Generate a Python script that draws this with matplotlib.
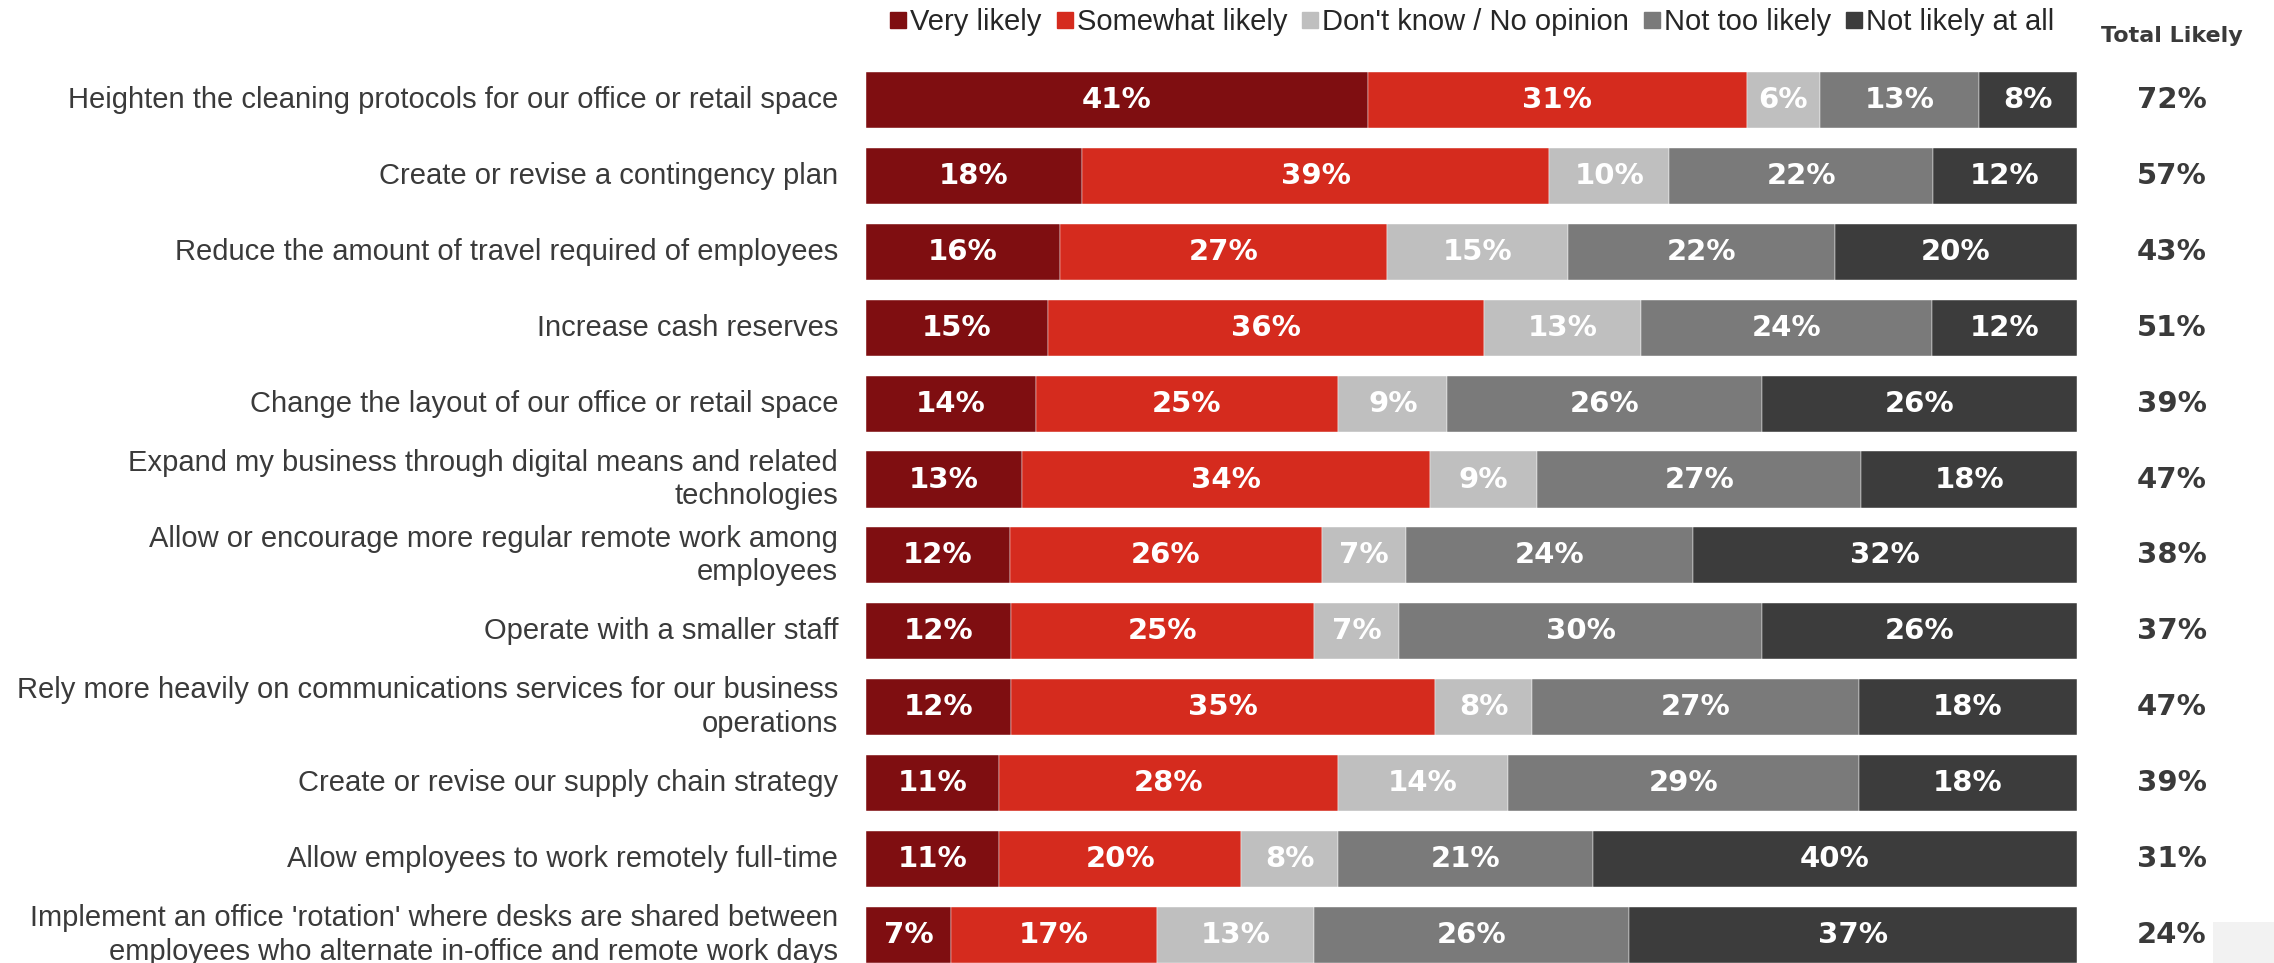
import numpy as np
import matplotlib.pyplot as plt
from matplotlib.lines import Line2D
from matplotlib.patches import Rectangle

plt.rcParams['font.family'] = ['Liberation Sans', 'DejaVu Sans']

categories = [
    "Heighten the cleaning protocols for our office or retail space",
    "Create or revise a contingency plan",
    "Reduce the amount of travel required of employees",
    "Increase cash reserves",
    "Change the layout of our office or retail space",
    "Expand my business through digital means and related\ntechnologies",
    "Allow or encourage more regular remote work among\nemployees",
    "Operate with a smaller staff",
    "Rely more heavily on communications services for our business\noperations",
    "Create or revise our supply chain strategy",
    "Allow employees to work remotely full-time",
    "Implement an office 'rotation' where desks are shared between\nemployees who alternate in-office and remote work days",
]
series = ["Very likely", "Somewhat likely", "Don't know / No opinion", "Not too likely", "Not likely at all"]
very_likely = [41, 18, 16, 15, 14, 13, 12, 12, 12, 11, 11, 7]
somewhat_likely = [31, 39, 27, 36, 25, 34, 26, 25, 35, 28, 20, 17]
dont_know = [6, 10, 15, 13, 9, 9, 7, 7, 8, 14, 8, 13]
not_too_likely = [13, 22, 22, 24, 26, 27, 24, 30, 27, 29, 21, 26]
not_likely_at_all = [8, 12, 20, 12, 26, 18, 32, 26, 18, 18, 40, 37]
total_likely = [72, 57, 43, 51, 39, 47, 38, 37, 47, 39, 31, 24]

colors = ['#7F0E11', '#D52B1E', '#BFBFBF', '#7A7A7A', '#3C3C3C']
txt = '#3A3A3A'
bold_font = 'DejaVu Sans'

data = np.array([very_likely, somewhat_likely, dont_know, not_too_likely, not_likely_at_all], dtype=float)
shares = data / data.sum(axis=0)  # bars are drawn as full-width 100% stacks

W, H = 2274, 963
fig = plt.figure(figsize=(W / 100, H / 100), dpi=100)
left_px, right_px = 866, 2077
ax = fig.add_axes([left_px / W, 0, (right_px - left_px) / W, 1])
row0, step = 100, 75.9
ax.set_ylim((H - row0) / step, -row0 / step)
ax.set_xlim(0, 1)
ax.axis('off')

y = np.arange(len(categories))
left = np.zeros(len(categories))
for k in range(5):
    ax.barh(y, shares[k], left=left, height=0.74, color=colors[k], edgecolor='white', linewidth=0.3)
    for i in range(len(categories)):
        ax.text(left[i] + shares[k][i] / 2, y[i], f"{int(data[k][i])}%", ha='center', va='center',
                color='white', fontsize=21, fontweight='bold', family=bold_font)
    left += shares[k]

xlab = (838 - left_px) / (right_px - left_px)
xtot = (2172 - left_px) / (right_px - left_px)
for i, c in enumerate(categories):
    ax.text(xlab, y[i], c, ha='right', va='center', fontsize=21, color=txt, linespacing=1.25)
    ax.text(xtot, y[i], f"{total_likely[i]}%", ha='center', va='center', fontsize=21,
            fontweight='bold', color=txt, family=bold_font)
ax.text(xtot, (36 - row0) / step, "Total Likely", ha='center', va='center', fontsize=16,
        fontweight='bold', color=txt, family=bold_font)

handles = [Line2D([], [], marker='s', linestyle='', color=c, markersize=12) for c in colors]
fig.legend(handles, series, loc='center', bbox_to_anchor=(1472 / W, 1 - 22 / H), ncol=5,
           frameon=False, fontsize=21, handlelength=0.6, handletextpad=0.1, columnspacing=0.5,
           labelcolor='#262626')

fig.patches.append(Rectangle((2213 / W, 0), 1 - 2213 / W, (H - 922) / H, transform=fig.transFigure,
                             facecolor='#F2F2F2', edgecolor='none', zorder=-1))

fig.savefig('out.png', dpi=100)
